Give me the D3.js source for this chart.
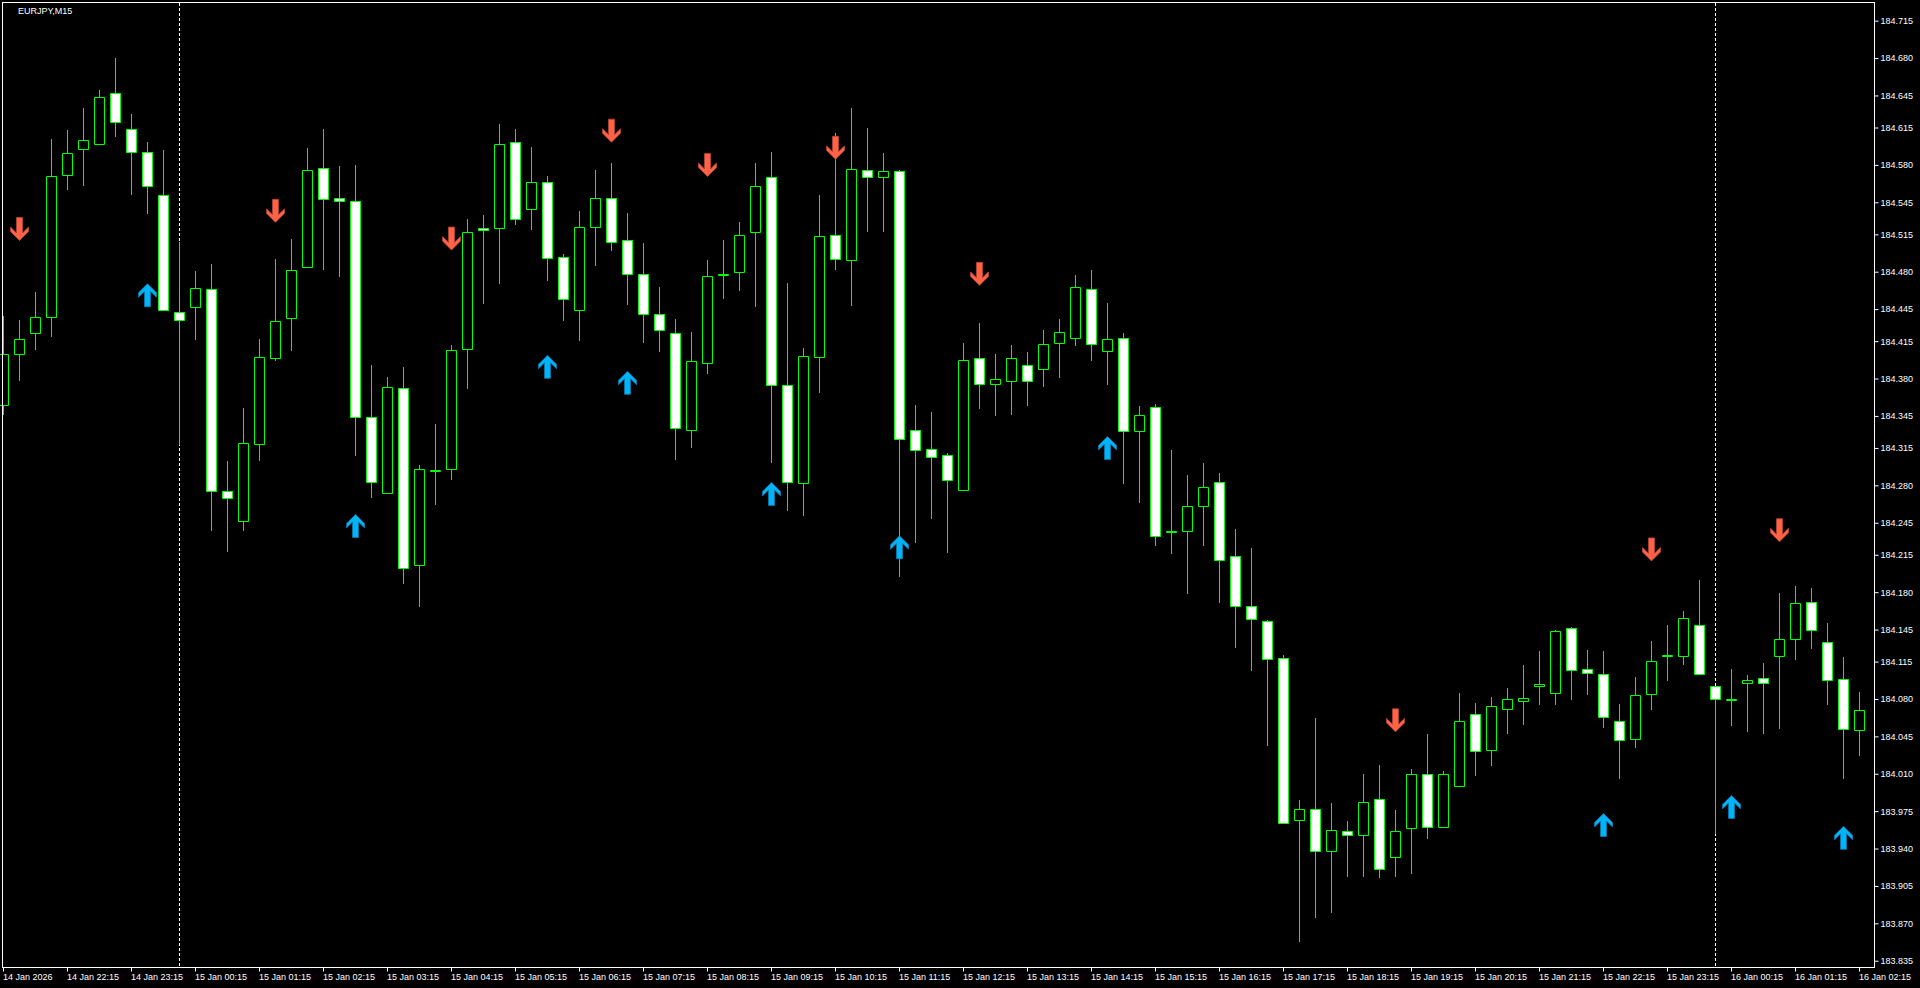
<!DOCTYPE html>
<html>
<head>
<meta charset="utf-8">
<title>EURJPY,M15</title>
<script src="https://cdn.jsdelivr.net/npm/d3@7"></script>
<style>
	html, body { margin: 0; padding: 0; background: #000; overflow: hidden; }
	svg { display: block; }
	text { font-family: "Liberation Sans", Arial, sans-serif; font-size: 9px; fill: #fff; }
</style>
</head>
<body>
<div id="chart"></div>
<script>
var w = 1920,
	h = 988;

var symbol = "EURJPY,M15";
var firstBar = new Date(2026, 0, 14, 21, 15);
var barMinutes = 15;

// OHLC, one value per M15 bar
var open = [184.355, 184.403, 184.423, 184.438, 184.571, 184.595, 184.600, 184.647, 184.614, 184.592,
	184.552, 184.442, 184.447, 184.464, 184.275, 184.247, 184.319, 184.399, 184.437, 184.484,
	184.577, 184.549, 184.546, 184.344, 184.273, 184.371, 184.205, 184.293, 184.295, 184.408,
	184.521, 184.521, 184.601, 184.539, 184.564, 184.494, 184.444, 184.522, 184.549, 184.510,
	184.478, 184.440, 184.423, 184.332, 184.395, 184.477, 184.480, 184.517, 184.569, 184.374,
	184.282, 184.400, 184.514, 184.491, 184.575, 184.569, 184.574, 184.332, 184.314, 184.308,
	184.276, 184.399, 184.375, 184.378, 184.393, 184.389, 184.413, 184.418, 184.464, 184.406,
	184.418, 184.331, 184.353, 184.236, 184.237, 184.261, 184.283, 184.214, 184.167, 184.153,
	184.118, 183.967, 183.977, 183.938, 183.956, 183.953, 183.986, 183.932, 183.959, 184.010,
	183.960, 183.999, 184.066, 184.032, 184.071, 184.078, 184.092, 184.086, 184.146, 184.108,
	184.103, 184.059, 184.043, 184.085, 184.120, 184.120, 184.149, 184.092, 184.079, 184.095,
	184.100, 184.120, 184.136, 184.171, 184.133, 184.099, 184.051];
var high = [184.439, 184.435, 184.461, 184.604, 184.613, 184.633, 184.650, 184.680, 184.628, 184.601,
	184.594, 184.508, 184.481, 184.487, 184.303, 184.352, 184.417, 184.492, 184.511, 184.596,
	184.614, 184.579, 184.580, 184.393, 184.381, 184.391, 184.299, 184.337, 184.411, 184.529,
	184.533, 184.618, 184.614, 184.597, 184.570, 184.497, 184.537, 184.575, 184.582, 184.535,
	184.507, 184.466, 184.436, 184.424, 184.491, 184.510, 184.527, 184.582, 184.592, 184.469,
	184.409, 184.552, 184.610, 184.633, 184.615, 184.591, 184.575, 184.355, 184.349, 184.310,
	184.413, 184.432, 184.403, 184.411, 184.405, 184.425, 184.436, 184.477, 184.482, 184.451,
	184.423, 184.354, 184.356, 184.313, 184.290, 184.301, 184.292, 184.239, 184.221, 184.154,
	184.121, 183.985, 184.062, 183.983, 183.966, 184.010, 184.018, 183.976, 184.014, 184.047,
	184.013, 184.086, 184.076, 184.082, 184.090, 184.112, 184.125, 184.145, 184.147, 184.126,
	184.125, 184.075, 184.101, 184.134, 184.149, 184.162, 184.191, 184.092, 184.108, 184.102,
	184.114, 184.179, 184.186, 184.184, 184.151, 184.119, 184.087];
var low = [184.347, 184.379, 184.408, 184.420, 184.557, 184.561, 184.600, 184.607, 184.553, 184.535,
	184.444, 184.319, 184.417, 184.238, 184.219, 184.238, 184.304, 184.397, 184.407, 184.484,
	184.483, 184.476, 184.308, 184.269, 184.273, 184.189, 184.167, 184.263, 184.286, 184.371,
	184.451, 184.469, 184.525, 184.520, 184.472, 184.435, 184.416, 184.486, 184.500, 184.450,
	184.414, 184.406, 184.305, 184.316, 184.385, 184.455, 184.463, 184.448, 184.302, 184.257,
	184.252, 184.367, 184.483, 184.449, 184.518, 184.518, 184.195, 184.227, 184.249, 184.218,
	184.276, 184.352, 184.346, 184.347, 184.355, 184.373, 184.381, 184.411, 184.397, 184.375,
	184.282, 184.264, 184.224, 184.217, 184.179, 184.224, 184.171, 184.129, 184.107, 184.037,
	183.964, 183.853, 183.876, 183.881, 183.914, 183.914, 183.913, 183.914, 183.917, 183.950,
	183.960, 183.999, 184.009, 184.018, 184.048, 184.057, 184.075, 184.075, 184.080, 184.085,
	184.054, 184.006, 184.035, 184.071, 184.098, 184.113, 184.103, 183.955, 184.056, 184.050,
	184.048, 184.053, 184.117, 184.128, 184.075, 184.006, 184.028];
var close = [184.403, 184.417, 184.438, 184.570, 184.591, 184.603, 184.644, 184.620, 184.592, 184.560,
	184.444, 184.435, 184.465, 184.275, 184.268, 184.320, 184.400, 184.434, 184.482, 184.575,
	184.548, 184.546, 184.344, 184.283, 184.372, 184.203, 184.295, 184.294, 184.407, 184.517,
	184.519, 184.600, 184.529, 184.564, 184.493, 184.454, 184.522, 184.549, 184.508, 184.478,
	184.440, 184.425, 184.334, 184.396, 184.476, 184.478, 184.514, 184.560, 184.374, 184.283,
	184.401, 184.513, 184.492, 184.576, 184.569, 184.574, 184.323, 184.313, 184.307, 184.285,
	184.397, 184.375, 184.380, 184.399, 184.378, 184.412, 184.424, 184.466, 184.412, 184.417,
	184.331, 184.346, 184.233, 184.237, 184.261, 184.278, 184.210, 184.167, 184.155, 184.117,
	183.964, 183.977, 183.938, 183.957, 183.953, 183.984, 183.921, 183.956, 184.010, 183.960,
	184.010, 184.059, 184.031, 184.073, 184.080, 184.081, 184.094, 184.144, 184.107, 184.104,
	184.063, 184.042, 184.084, 184.116, 184.121, 184.156, 184.103, 184.080, 184.080, 184.098,
	184.095, 184.136, 184.170, 184.145, 184.098, 184.052, 184.070];

// indicator arrows: bar index and price of the arrow centre
var downArrowBars = [1, 17, 28, 38, 44, 52, 61, 87, 103, 111];
var downArrowPrices = [184.520, 184.537, 184.511, 184.612, 184.580, 184.596, 184.478, 184.060, 184.220, 184.238];
var upArrowBars = [9, 22, 34, 39, 48, 56, 69, 100, 108, 115];
var upArrowPrices = [184.458, 184.242, 184.391, 184.376, 184.272, 184.222, 184.315, 183.962, 183.979, 183.950];

var priceTicks = [184.715, 184.680, 184.645, 184.615, 184.580, 184.545, 184.515, 184.480, 184.445,
	184.415, 184.380, 184.345, 184.315, 184.280, 184.245, 184.215, 184.180, 184.145, 184.115,
	184.080, 184.045, 184.010, 183.975, 183.940, 183.905, 183.870, 183.835];

// one label every 4 bars
var timeLabels = ["14 Jan 2026", "14 Jan 22:15", "14 Jan 23:15", "15 Jan 00:15", "15 Jan 01:15",
	"15 Jan 02:15", "15 Jan 03:15", "15 Jan 04:15", "15 Jan 05:15", "15 Jan 06:15", "15 Jan 07:15",
	"15 Jan 08:15", "15 Jan 09:15", "15 Jan 10:15", "15 Jan 11:15", "15 Jan 12:15", "15 Jan 13:15",
	"15 Jan 14:15", "15 Jan 15:15", "15 Jan 16:15", "15 Jan 17:15", "15 Jan 18:15", "15 Jan 19:15",
	"15 Jan 20:15", "15 Jan 21:15", "15 Jan 22:15", "15 Jan 23:15", "16 Jan 00:15", "16 Jan 01:15",
	"16 Jan 02:15"];
var labelEvery = 4;

var daySeparators = [new Date(2026, 0, 15, 0, 0), new Date(2026, 0, 16, 0, 0)];

var green = "#00ff00",
	upColor = "#00b4f8",
	upEdge = "#0a78b0",
	downColor = "#ff6347",
	downEdge = "#b8442f";

$ready();

function $ready() {
	var root = d3.select("#chart").append("svg").attr("width", w).attr("height", h);
	root.append("rect").attr("width", w).attr("height", h).attr("fill", "#000");

	var barTime = function(i) {
		return d3.timeMinute.offset(firstBar, i * barMinutes);
	};

	var bars = open.map(function(o, i) {
		return { t: barTime(i), o: o, h: high[i], l: low[i], c: close[i] };
	});

	var x = d3.scaleTime().domain([bars[0].t, bars[bars.length - 1].t]).range([3, 3 + 16 * (bars.length - 1)]);
	var y = d3.scaleLinear().domain([183.8291, 184.7325]).range([967, 2]);

	function py(p) {
		return Math.round(y(p)) + 0.5;
	}

	// day separators
	root.append("g").selectAll("line").data(daySeparators).join("line")
		.attr("x1", function(d) { return x(d) + 0.5; })
		.attr("x2", function(d) { return x(d) + 0.5; })
		.attr("y1", 3).attr("y2", 967)
		.attr("stroke", "#fff").attr("stroke-dasharray", "3,2");

	// candles
	var candle = root.append("g").selectAll("g").data(bars).join("g");

	candle.append("line")
		.attr("x1", function(d) { return x(d.t) + 0.5; })
		.attr("x2", function(d) { return x(d.t) + 0.5; })
		.attr("y1", function(d) { return Math.round(y(d.h)); })
		.attr("y2", function(d) { return Math.round(y(d.l)) + 1; })
		.attr("stroke", green);

	candle.append("path")
		.attr("d", function(d) {
			var x0 = x(d.t) - 4.5,
				x1 = x(d.t) + 5.5,
				top = py(Math.max(d.o, d.c)),
				bot = py(Math.min(d.o, d.c));
			return "M" + x0 + "," + top + "H" + x1 + "V" + bot + "H" + x0 + "Z";
		})
		.attr("fill", function(d) { return d.c >= d.o ? "#000" : "#fff"; })
		.attr("stroke", green);

	// arrows (drawn pointing up, flipped for the down ones)
	var arrowShape = "M0,-11.5L9,-2.5L9,2L3,-4L3,11.5L-3,11.5L-3,-4L-9,2L-9,-2.5Z";

	root.append("g").selectAll("path").data(upArrowBars).join("path")
		.attr("d", arrowShape)
		.attr("transform", function(b, i) {
			return "translate(" + (x(bars[b].t) + 0.5) + "," + y(upArrowPrices[i]) + ")";
		})
		.attr("fill", upColor).attr("stroke", upEdge).attr("stroke-width", 0.8);

	root.append("g").selectAll("path").data(downArrowBars).join("path")
		.attr("d", arrowShape)
		.attr("transform", function(b, i) {
			return "translate(" + (x(bars[b].t) + 0.5) + "," + y(downArrowPrices[i]) + ") scale(1,-1)";
		})
		.attr("fill", downColor).attr("stroke", downEdge).attr("stroke-width", 0.8);

	// frame
	root.append("rect")
		.attr("x", 2.5).attr("y", 2.5).attr("width", 1872).attr("height", 965)
		.attr("fill", "none").attr("stroke", "#fff");

	// price scale
	var yAxis = d3.axisRight(y).tickValues(priceTicks).tickFormat(d3.format(".3f")).tickSize(4).tickPadding(2);
	var gy = root.append("g").attr("transform", "translate(1874.5,0)").style("color", "#fff").call(yAxis);
	gy.select(".domain").remove();

	// time scale
	var tickDates = timeLabels.map(function(_, i) {
		return barTime(i * labelEvery);
	});
	var xAxis = d3.axisBottom(x).tickValues(tickDates).tickFormat(function(d, i) {
		return timeLabels[i];
	}).tickSize(4).tickPadding(2);
	var gx = root.append("g").attr("transform", "translate(0,967.5)").style("color", "#fff").call(xAxis);
	gx.select(".domain").remove();
	gx.selectAll("text").attr("text-anchor", "start").attr("x", -0.5);

	root.append("text").attr("x", 18).attr("y", 14).text(symbol);
}
</script>
</body>
</html>
